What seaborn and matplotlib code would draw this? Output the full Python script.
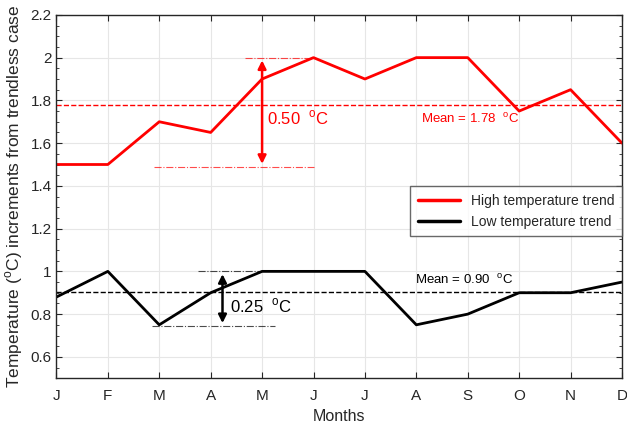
import numpy as np
import pandas as pd
import matplotlib
matplotlib.use('Agg')
import matplotlib.pyplot as plt
import seaborn as sns
from matplotlib.ticker import MultipleLocator

# Data
months = ['J', 'F', 'M', 'A', 'M', 'J', 'J', 'A', 'S', 'O', 'N', 'D']
high_trend = [1.5, 1.5, 1.7, 1.65, 1.9, 2.0, 1.9, 2.0, 2.0, 1.75, 1.85, 1.6]
low_trend = [0.88, 1.0, 0.75, 0.9, 1.0, 1.0, 1.0, 0.75, 0.8, 0.9, 0.9, 0.95]

df = pd.DataFrame({
    'idx': list(range(12)) * 2,
    'value': high_trend + low_trend,
    'series': ['High temperature trend'] * 12 + ['Low temperature trend'] * 12,
})

sns.set_style('ticks')
plt.rcParams['font.family'] = ['Liberation Sans', 'DejaVu Sans']
plt.rcParams['mathtext.fontset'] = 'custom'
plt.rcParams['mathtext.rm'] = 'Liberation Sans'

fig, ax = plt.subplots(figsize=(6.27, 4.25), dpi=100)

sns.lineplot(data=df, x='idx', y='value', hue='series',
             palette={'High temperature trend': 'red', 'Low temperature trend': 'black'},
             linewidth=2, ax=ax)

high_mean = np.mean(high_trend)
low_mean = np.mean(low_trend)
ax.axhline(high_mean, color='red', ls='--', lw=1)
ax.axhline(low_mean, color='black', ls='--', lw=1)

# Range markers for high trend
ax.plot([3.67, 5.0], [2.0, 2.0], color='red', ls='-.', lw=0.8, alpha=0.7)
ax.plot([1.9, 5.0], [1.49, 1.49], color='red', ls='-.', lw=0.8, alpha=0.7)
ax.annotate('', xy=(4, 2.0), xytext=(4, 1.49),
            arrowprops=dict(arrowstyle='<|-|>', color='red', lw=1.8, mutation_scale=12))
ax.text(4.1, 1.72, r'0.50  $^{\rm o}$C', color='red', fontsize=12, va='center')

# Range markers for low trend
ax.plot([2.75, 4.0], [1.0, 1.0], color='black', ls='-.', lw=0.8, alpha=0.7)
ax.plot([1.85, 4.25], [0.745, 0.745], color='black', ls='-.', lw=0.8, alpha=0.7)
ax.annotate('', xy=(3.23, 1.0), xytext=(3.23, 0.745),
            arrowprops=dict(arrowstyle='<|-|>', color='black', lw=1.8, mutation_scale=12))
ax.text(3.38, 0.84, r'0.25  $^{\rm o}$C', color='black', fontsize=12, va='center')

ax.text(7.1, 1.715, r'Mean = %.2f  $^{\rm o}$C' % high_mean, color='red', fontsize=9.5, va='center')
ax.text(6.97, 0.96, r'Mean = %.2f  $^{\rm o}$C' % low_mean, color='black', fontsize=9.5, va='center')

ax.set_xlim(0, 11)
ax.set_ylim(0.5, 2.2)
ax.set_xticks(range(12))
ax.set_xticklabels(months)
ax.yaxis.set_major_locator(MultipleLocator(0.2))
ax.yaxis.set_minor_locator(MultipleLocator(0.05))
ax.set_yticks(np.arange(0.6, 2.21, 0.2))
ax.set_yticklabels(['0.6', '0.8', '1', '1.2', '1.4', '1.6', '1.8', '2', '2.2'])
ax.tick_params(direction='in', which='both', top=True, right=True, labelsize=11)
ax.tick_params(which='major', length=4)
ax.tick_params(which='minor', length=2)
ax.tick_params(axis='x', pad=8)
ax.grid(True, color='#e6e6e6', lw=0.8)
for s in ax.spines.values():
    s.set_linewidth(1)

ax.set_xlabel('Months', fontsize=11.5)
ax.set_ylabel(r'Temperature ($^{\rm o}$C) increments from trendless case', fontsize=12.5)

leg = ax.legend(loc='upper right', bbox_to_anchor=(1.0, 0.529), fontsize=10,
                frameon=True, fancybox=False, edgecolor='#444444', borderpad=0.55,
                handlelength=3.0, labelspacing=0.5, borderaxespad=0)
leg.get_frame().set_linewidth(1)
for line in leg.get_lines():
    line.set_linewidth(2.5)

plt.subplots_adjust(left=0.09, right=0.992, top=0.965, bottom=0.11)
plt.savefig('out.png', dpi=100)
